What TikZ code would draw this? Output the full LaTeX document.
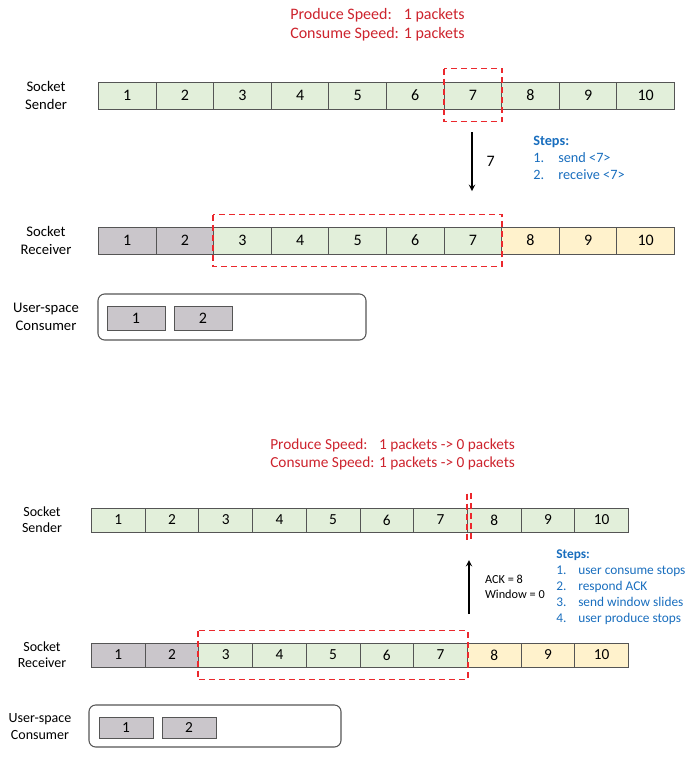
\documentclass[tikz,border=0pt]{standalone}
\usepackage{fontspec}
\setmainfont{Carlito}
\usepackage{tikz}
\usepackage{array}
\definecolor{headred}{RGB}{205,35,45}
\definecolor{boxred}{RGB}{235,40,45}
\definecolor{stepblue}{RGB}{25,110,190}
\definecolor{cellgreen}{RGB}{226,239,218}
\definecolor{cellgray}{RGB}{202,198,203}
\definecolor{cellyellow}{RGB}{255,242,204}
\definecolor{celledge}{RGB}{85,85,85}

\begin{document}
\begin{tikzpicture}[x=0.75pt,y=-0.75pt,>=stealth,
        cell/.style={draw=celledge,line width=0.7pt,inner sep=0pt,anchor=west},
        bigcell/.style={cell,minimum width=43.2pt,minimum height=20.25pt,font=\fontsize{12}{14}\selectfont},
        smallcell/.style={cell,minimum width=40.3pt,minimum height=18pt,font=\fontsize{11.5}{13}\selectfont},
        window/.style={draw=boxred,line width=1.4pt,dash pattern=on 4.5pt off 3pt},
        rowlabel/.style={align=center,font=\fontsize{11}{13.5}\selectfont},
        speed/.style={anchor=west,inner sep=0pt,text=headred},
        steps/.style={anchor=west,inner sep=0pt,text=stepblue},
        userbox/.style={draw=celledge,line width=0.8pt,rounded corners=5pt},
        flow/.style={->,line width=1.1pt}]
    \useasboundingbox (0,0) rectangle (691,758);

    % ---- before: sending packet 7
    \node[speed,font=\fontsize{12}{14.3}\selectfont] (speedA) at (290,25.5) {\begin{tabular}{@{}l@{\hspace{0.3em}}l@{}}
        Produce Speed: & 1 packets\\
        Consume Speed: & 1 packets
    \end{tabular}};
    \node[rowlabel] (sndA) at (46,95.5) {Socket\\Sender};
    \node[rowlabel] (rcvA) at (46,240.5) {Socket\\Receiver};
    \node[rowlabel] (usrA) at (46,317) {User-space\\Consumer};
    \foreach \i in {1,...,10}
        \node[bigcell,fill=cellgreen] (s\i) at ({98+(\i-1)*57.6},95.5) {\i};
    \foreach \i/\c in {1/cellgray,2/cellgray,3/cellgreen,4/cellgreen,5/cellgreen,6/cellgreen,7/cellgreen,8/cellyellow,9/cellyellow,10/cellyellow}
        \node[bigcell,fill=\c] (r\i) at ({98+(\i-1)*57.6},240.5) {\i};
    \draw[window] ([yshift=9.75pt]s7.north west) rectangle ([yshift=-9pt]s7.south east);
    \draw[window] ([yshift=9pt]r3.north west) rectangle ([yshift=-9pt]r7.south east);
    \coordinate (outA) at (472,132);
    \coordinate (inA) at (472,191);
    \draw[flow] (outA) -- (inA) node[midway,right=7pt,font=\fontsize{12}{14}\selectfont] {7};
    \node[steps,font=\fontsize{10.7}{12.8}\selectfont] (stepsA) at (533,159.5) {\begin{tabular}{@{}p{14pt}@{\hspace{4.75pt}}l@{}}
        \multicolumn{2}{@{}l@{}}{\textbf{Steps:}}\\
        1. & send <7>\\
        2. & receive <7>
    \end{tabular}};
    \node[userbox,minimum width=201pt,minimum height=34.5pt] (consA) at (232,317) {};
    \node[cell,anchor=center,fill=cellgray,minimum width=43.5pt,minimum height=18pt,font=\fontsize{12}{14}\selectfont] (cA1) at (136,318) {1};
    \node[cell,anchor=center,fill=cellgray,minimum width=43.5pt,minimum height=18pt,font=\fontsize{12}{14}\selectfont] (cA2) at (203,318) {2};

    % ---- after: window closed
    \node[speed,font=\fontsize{11.5}{13.8}\selectfont] (speedB) at (270,455) {\begin{tabular}{@{}l@{\hspace{0.3em}}l@{}}
        Produce Speed: & 1 packets -> 0 packets\\
        Consume Speed: & 1 packets -> 0 packets
    \end{tabular}};
    \node[rowlabel,font=\fontsize{10.5}{12}\selectfont] (sndB) at (42,519.5) {Socket\\Sender};
    \node[rowlabel,font=\fontsize{10.5}{12}\selectfont] (rcvB) at (42,655) {Socket\\Receiver};
    \node[rowlabel,font=\fontsize{10.5}{12.5}\selectfont] (usrB) at (40,726.5) {User-space\\Consumer};
    \foreach \i in {1,...,10}
        \node[smallcell,fill=cellgreen] (S\i) at ({91+(\i-1)*53.7},520) {\i};
    \foreach \i/\c in {1/cellgray,2/cellgray,3/cellgreen,4/cellgreen,5/cellgreen,6/cellgreen,7/cellgreen,8/cellyellow,9/cellyellow,10/cellyellow}
        \node[smallcell,fill=\c] (R\i) at ({91+(\i-1)*53.7},655) {\i};
    \draw[window] ([xshift=-0.5pt,yshift=10.5pt]S7.north east) rectangle ([xshift=2.5pt,yshift=-5pt]S7.south east);
    \draw[window] ([yshift=9pt]R3.north west) rectangle ([yshift=-9pt]R7.south east);
    \coordinate (ackA) at (469,614);
    \coordinate (ackB) at (469,560);
    \draw[flow] (ackA) -- (ackB) node[midway,right=11.5pt,align=left,inner sep=0pt,font=\fontsize{9.2}{11}\selectfont] {ACK = 8\\Window = 0};
    \node[steps,font=\fontsize{10}{12}\selectfont] (stepsB) at (556,587) {\begin{tabular}{@{}p{12pt}@{\hspace{4.5pt}}l@{}}
        \multicolumn{2}{@{}l@{}}{\textbf{Steps:}}\\
        1. & user consume stops\\
        2. & respond ACK\\
        3. & send window slides\\
        4. & user produce stops
    \end{tabular}};
    \node[userbox,minimum width=189pt,minimum height=31.5pt] (consB) at (215,726) {};
    \node[cell,anchor=center,fill=cellgray,minimum width=40.5pt,minimum height=15.75pt,font=\fontsize{11.5}{13}\selectfont] (cB1) at (126,727.5) {1};
    \node[cell,anchor=center,fill=cellgray,minimum width=40.5pt,minimum height=15.75pt,font=\fontsize{11.5}{13}\selectfont] (cB2) at (189,727.5) {2};
\end{tikzpicture}
\end{document}
